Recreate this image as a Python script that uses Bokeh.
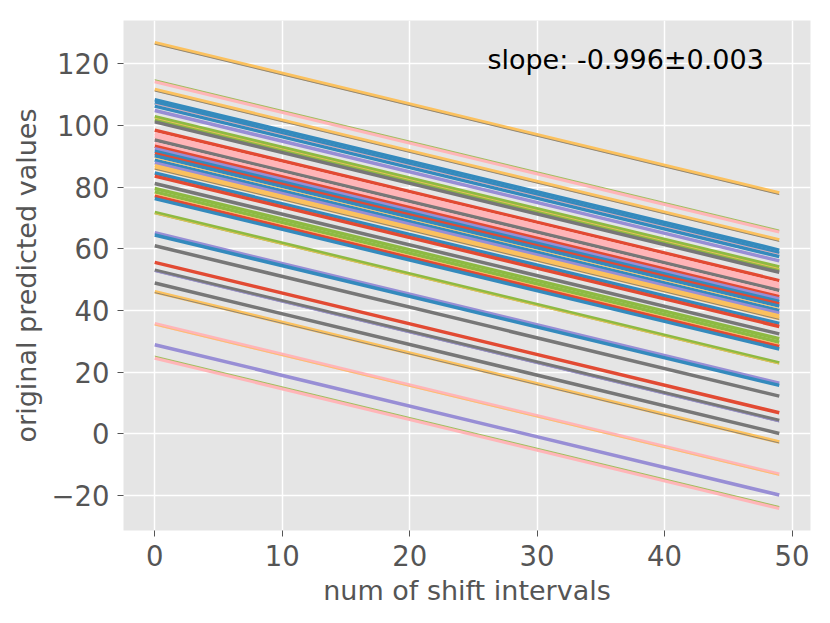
from bokeh.plotting import figure
from bokeh.models import ColumnDataSource, Range1d, SingleIntervalTicker, Label
from bokeh.embed import file_html
from bokeh.resources import INLINE

# ---- data ----
x_first = 0
x_last = 49

RED, BLUE, PURPLE, GRAY, ORANGE, GREEN, PINK = (
    "#E24A33", "#348ABD", "#988ED5", "#777777", "#FBC15E", "#8EBA42", "#FFB5B8")

thick_start = [126.9, 114.3, 111.7, 108.4, 107.4, 106.3, 104.9, 102.9, 101.9, 101.2,
               98.5, 97.4, 96.6, 95.8, 95.3, 94.2, 93.3, 92.5, 91.7, 90.9,
               90.2, 88.8, 87.9, 87.0, 86.2, 84.6, 83.6, 81.2, 79.6, 78.5,
               77.2, 76.3, 71.8, 65.2, 64.5, 61.0, 55.6, 53.1, 48.9, 46.1,
               35.7, 28.9, 24.6]
thick_end = [78.1, 65.5, 62.9, 59.6, 58.6, 57.5, 56.1, 54.1, 53.1, 52.4,
             49.7, 48.6, 47.8, 47.0, 46.5, 45.4, 44.5, 43.7, 42.9, 42.1,
             41.4, 40.0, 39.1, 38.2, 37.4, 35.8, 34.8, 32.4, 30.8, 29.7,
             28.4, 27.5, 23.0, 16.4, 15.7, 12.2, 6.8, 4.3, 0.1, -2.7,
             -13.1, -19.9, -24.2]
thick_color = [ORANGE, PINK, ORANGE, BLUE, BLUE, BLUE, PURPLE, GREEN, GREEN, GRAY,
               RED, PINK, PINK, PINK, GRAY, PINK, RED, PURPLE, BLUE, RED,
               BLUE, BLUE, PURPLE, ORANGE, ORANGE, BLUE, RED, GRAY, GREEN, GREEN,
               RED, BLUE, GREEN, PURPLE, BLUE, GRAY, RED, GRAY, GRAY, ORANGE,
               PINK, PURPLE, PINK]

thin_start = [126.4, 114.9, 111.2, 107.0, 102.4, 89.5, 85.9, 77.8, 71.4, 52.6, 45.8, 35.3, 25.2]
thin_end = [77.6, 66.1, 62.4, 58.2, 53.6, 40.7, 37.1, 29.0, 22.6, 3.8, -3.0, -13.5, -23.6]
thin_color = [GRAY, GREEN, GRAY, PINK, ORANGE, ORANGE, GRAY, ORANGE, ORANGE, PURPLE, GRAY, ORANGE, GREEN]

x_label = "num of shift intervals"
y_label = "original predicted values"
note = "slope: -0.996\u00b10.003"

TXT = "#555555"
FONT = "DejaVu Sans"

p = figure(width=822, height=615, output_backend="svg", toolbar_location=None,
           x_range=Range1d(-2.45, 51.45), y_range=Range1d(-31.4, 134.1),
           min_border_left=123, min_border_right=12, min_border_top=20, min_border_bottom=85)
p.background_fill_color = "#E5E5E5"
p.border_fill_color = "white"
p.outline_line_color = None

thick = ColumnDataSource(dict(x0=[x_first] * len(thick_start), y0=thick_start,
                              x1=[x_last] * len(thick_end), y1=thick_end, c=thick_color))
thin = ColumnDataSource(dict(x0=[x_first] * len(thin_start), y0=thin_start,
                             x1=[x_last] * len(thin_end), y1=thin_end, c=thin_color))
p.segment("x0", "y0", "x1", "y1", source=thick, line_color="c", line_width=3.5)
p.segment("x0", "y0", "x1", "y1", source=thin, line_color="c", line_width=1.0, line_alpha=0.8)

p.xaxis.ticker = SingleIntervalTicker(interval=10)
p.yaxis.ticker = SingleIntervalTicker(interval=20)
p.yaxis.major_label_overrides = {-20: "\u221220"}

for ax in (p.xaxis[0], p.yaxis[0]):
    ax.axis_line_color = None
    ax.major_tick_in = 0
    ax.major_tick_out = 6
    ax.major_tick_line_color = TXT
    ax.major_tick_line_width = 1
    ax.minor_tick_line_color = None
    ax.major_label_text_font = FONT
    ax.major_label_text_font_size = "27.5px"
    ax.major_label_text_color = TXT
    ax.major_label_standoff = 8
    ax.axis_label_text_font = FONT
    ax.axis_label_text_font_size = "27px"
    ax.axis_label_text_font_style = "normal"
    ax.axis_label_text_color = TXT
    ax.axis_label_standoff = 6

p.xaxis.axis_label = x_label
p.yaxis.axis_label = y_label

p.xgrid.grid_line_color = "white"
p.ygrid.grid_line_color = "white"
p.xgrid.grid_line_width = 1.5
p.ygrid.grid_line_width = 1.5
p.xgrid.level = "underlay"
p.ygrid.level = "underlay"

p.add_layout(Label(x=26.1, y=121.3, text=note, text_font=FONT, text_font_size="27px",
                   text_color="black", text_baseline="alphabetic", text_align="left"))

open("out.html", "w").write(file_html(p, INLINE))
